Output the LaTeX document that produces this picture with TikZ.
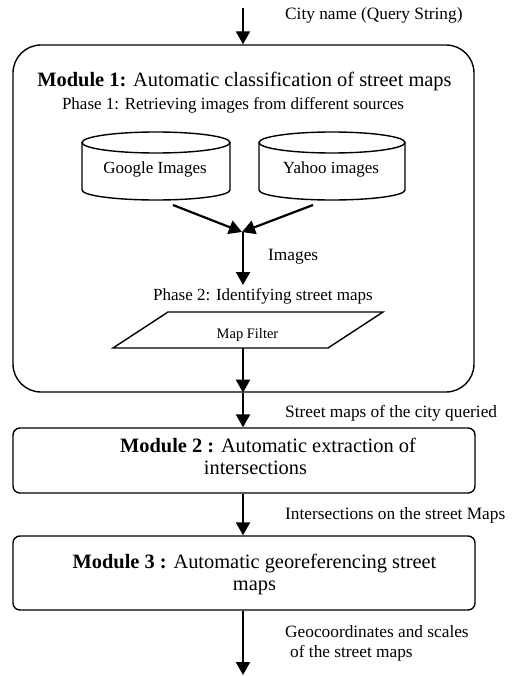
\documentclass[tikz,border=0pt]{standalone}
\usepackage{fontspec}
\setmainfont{Liberation Serif}
\usetikzlibrary{arrows.meta}
\tikzset{
  flow/.style={line width=2.2pt,-{Triangle[length=13pt,width=14pt]}},
  edge/.style={line width=1.4pt},
  modbox/.style={draw,line width=1.4pt,rounded corners=7pt,minimum width=462pt,inner sep=0pt},
  lbl/.style={font=\fontsize{17.3}{20}\selectfont,anchor=base west,inner sep=0pt},
  body/.style={font=\fontsize{17}{20}\selectfont,anchor=base,inner sep=0pt},
  big/.style={font=\fontsize{20.4}{23}\selectfont,anchor=base,inner sep=0pt},
}
\begin{document}
\begin{tikzpicture}[x=1pt,y=-1pt]
\useasboundingbox (0,0) rectangle (516,676);

% query input
\coordinate (in) at (243,8);
\node[lbl] (qlbl) at (285,20) {City name (Query String)};

% module 1 container
\node[draw,line width=1.4pt,rounded corners=28pt,minimum width=461pt,minimum height=347pt,inner sep=0pt] (m1) at (243.5,218.5) {};
\node[big] (m1t) at (244.5,87) {\textbf{Module 1:} Automatic classification of street maps};
\node[body] (ph1) at (233,110) {Phase 1: Retrieving images from different sources};

% image sources (cylinders)
\draw[edge] (156,142.5) ellipse[x radius=74,y radius=10.5];
\draw[edge] (82,142.5) -- (82,190) arc[start angle=180,end angle=0,x radius=74,y radius=10] -- (230,142.5);
\node[body] (google) at (155,174) {Google Images};
\draw[edge] (332,142.5) ellipse[x radius=73,y radius=10.5];
\draw[edge] (259,142.5) -- (259,190) arc[start angle=180,end angle=0,x radius=73,y radius=10] -- (405,142.5);
\node[body] (yahoo) at (331,174) {Yahoo images};
\coordinate (gout) at (173,205);
\coordinate (yout) at (313,205);
\coordinate (merge) at (242,232);

\draw[flow] (gout) -- (merge);
\draw[flow] (yout) -- (merge);
\node[lbl] (imgl) at (268,260) {Images};
\node[body] (ph2) at (263,300) {Phase 2: Identifying street maps};
\coordinate (mtop) at (243,232);
\coordinate (filtin) at (243,285);
\draw[flow] (mtop) -- (filtin);

% map filter (parallelogram)
\draw[edge] (168,312) -- (383,312) -- (328,348) -- (113,348) -- cycle;
\node[font=\fontsize{14.5}{17}\selectfont,anchor=base,inner sep=0pt] (filter) at (247.5,338) {Map Filter};
\coordinate (filtout) at (243,348);

% modules 2 and 3
\node[modbox,minimum height=65pt] (m2) at (244,460.5) {};
\node[big] (m2a) at (268,452) {\textbf{Module 2 :} Automatic extraction of};
\node[big] (m2b) at (255.5,474) {intersections};
\node[modbox,minimum height=74pt] (m3) at (244,573) {};
\node[big] (m3a) at (254.5,568) {\textbf{Module 3 :} Automatic georeferencing street};
\node[big] (m3b) at (254.5,590) {maps};
\coordinate (out) at (243,675);

\draw[flow] (in) -- (m1.north -| in);
\draw[flow] (filtout) -- (m1.south -| filtout);
\draw[flow] (m1.south -| filtout) -- (m2.north -| filtout);
\draw[flow] (m2.south -| filtout) -- (m3.north -| filtout);
\draw[flow] (m3.south -| filtout) -- (out);

\node[lbl] (l2) at (285,417) {Street maps of the city queried};
\node[lbl] (l3) at (285,519) {Intersections on the street Maps};
\node[lbl] (l4a) at (285,637) {Geocoordinates and scales};
\node[lbl] (l4b) at (290,657) {of the street maps};
\end{tikzpicture}
\end{document}
